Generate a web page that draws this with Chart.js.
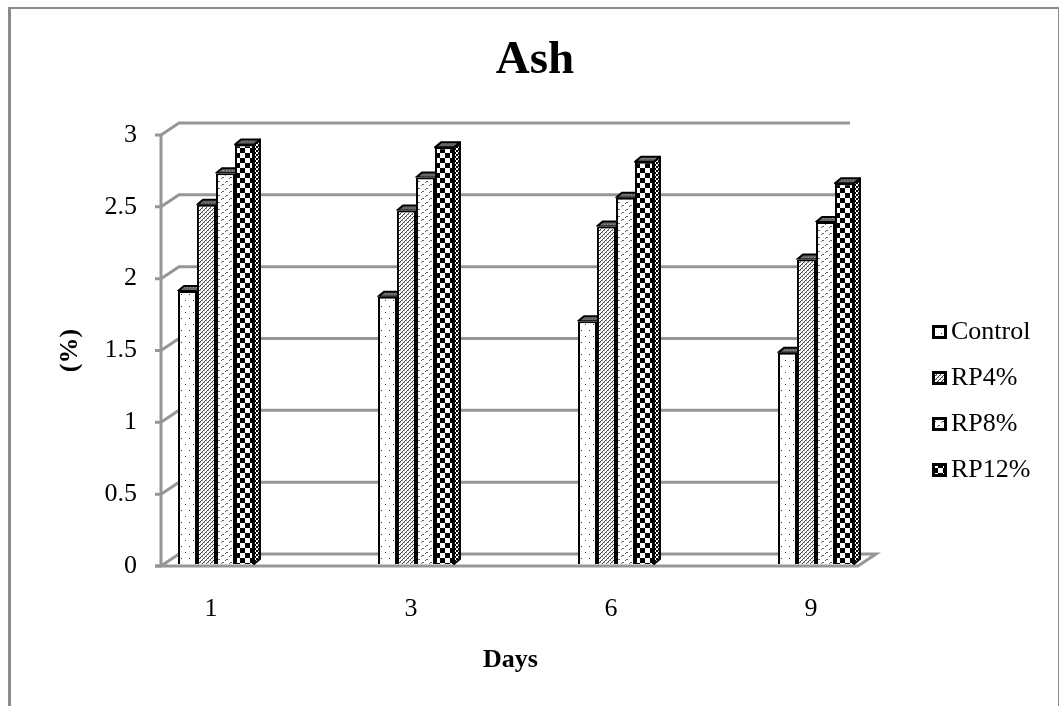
<!DOCTYPE html>
<html>
<head>
<meta charset="utf-8">
<title>Ash</title>
<script src="https://cdn.jsdelivr.net/npm/chart.js"></script>
<style>
  body { margin: 0; background: #fff; }
  #wrap { position: relative; width: 1059px; height: 706px; overflow: hidden; }
  #frame { position: absolute; left: 8px; top: 7px; width: 1047px; height: 720px;
           border: solid #8c8c8c; border-width: 2px 2px 0 3px; pointer-events: none; }
</style>
</head>
<body>
<div id="wrap">
  <canvas id="ashChart" width="1059" height="706"></canvas>
  <div id="frame"></div>
</div>
<script>
  // Data
  const categories = ['1', '3', '6', '9'];
  const control = [1.90, 1.86, 1.69, 1.47];
  const rp4 = [2.50, 2.46, 2.35, 2.12];
  const rp8 = [2.72, 2.69, 2.55, 2.38];
  const rp12 = [2.92, 2.90, 2.80, 2.65];
  const seriesNames = ['Control', 'RP4%', 'RP8%', 'RP12%'];
  const seriesValues = [control, rp4, rp8, rp12];

  const FONT = '"Liberation Serif", "Times New Roman", serif';
  const GRID = '#969696';

  // Fill patterns
  function makeTile(w, h, draw) {
    const c = document.createElement('canvas');
    c.width = w; c.height = h;
    const g = c.getContext('2d');
    g.fillStyle = '#fff';
    g.fillRect(0, 0, w, h);
    g.fillStyle = '#000';
    g.strokeStyle = '#000';
    draw(g);
    return c;
  }
  const dots = makeTile(8, 12, g => {
    g.fillStyle = '#333';
    g.fillRect(1, 2, 1, 1);
    g.fillRect(5, 8, 1, 1);
  });
  const hatch = makeTile(4, 4, g => {
    g.fillStyle = '#444';
    g.fillRect(0, 3, 1, 1); g.fillRect(1, 2, 1, 1);
    g.fillRect(2, 1, 1, 1); g.fillRect(3, 0, 1, 1);
    g.fillStyle = '#999';
    g.fillRect(0, 0, 1, 1); g.fillRect(2, 2, 1, 1);
  });
  const waves = makeTile(8, 7, g => {
    g.fillStyle = '#666';
    g.fillRect(1, 2, 1, 1); g.fillRect(2, 1, 2, 1);
    g.fillRect(5, 5, 1, 1); g.fillRect(6, 4, 2, 1);
  });
  const checks = makeTile(10, 10, g => {
    g.fillRect(0, 0, 5, 5);
    g.fillRect(5, 5, 5, 5);
  });
  const sideTile = makeTile(4, 4, g => {
    g.fillRect(0, 0, 2, 2);
    g.fillRect(2, 2, 2, 2);
    g.fillStyle = '#555';
    g.fillRect(2, 0, 1, 1);
  });
  const topTile = makeTile(3, 3, g => {
    g.fillStyle = '#666';
    g.fillRect(0, 0, 3, 3);
    g.fillStyle = '#999';
    g.fillRect(1, 1, 1, 1);
  });

  const patternCtx = document.createElement('canvas').getContext('2d');
  const fills = [dots, hatch, waves, checks].map(t => patternCtx.createPattern(t, 'repeat'));
  const sideFill = patternCtx.createPattern(sideTile, 'repeat');
  const topFill = patternCtx.createPattern(topTile, 'repeat');

  // Legend markers, blank on the left so the text sits close to the box
  function makeMarker(fill) {
    const c = document.createElement('canvas');
    c.width = 19; c.height = 14;
    const g = c.getContext('2d');
    g.fillStyle = '#000';
    g.fillRect(4, 0, 15, 14);
    g.fillStyle = fill;
    g.fillRect(7, 3, 9, 8);
    return c;
  }
  const markers = [dots, hatch, waves, checks].map(t => makeMarker(patternCtx.createPattern(t, 'repeat')));

  // Offsets of the 3D look
  const WALL_X = 18, WALL_Y = 12, BAR_X = 6, BAR_Y = 5, BAR_LIFT = 2, WALL_END = 10;

  const wallsPlugin = {
    id: 'walls',
    afterLayout(chart) {
      // title and legend sit outside the plot box
      chart.titleBlock.left = 8;
      chart.titleBlock.right = 1062;
      const lg = chart.legend;
      lg.left = 917; lg.right = 1059;
      lg.top = 299; lg.bottom = 540;
    },
    beforeDatasetsDraw(chart) {
      const { ctx, scales: { x, y } } = chart;
      const wallRight = x.right - WALL_END;
      ctx.save();
      ctx.strokeStyle = GRID;
      ctx.lineWidth = 3;
      ctx.lineJoin = 'miter';
      y.ticks.forEach(t => {
        const py = y.getPixelForValue(t.value);
        ctx.beginPath();
        ctx.moveTo(x.left - 6, py);
        ctx.lineTo(x.left, py);
        ctx.lineTo(x.left + WALL_X, py - WALL_Y);
        ctx.lineTo(wallRight, py - WALL_Y);
        ctx.stroke();
      });
      // y axis and floor
      const top = y.getPixelForValue(y.max), base = y.getPixelForValue(0);
      ctx.beginPath();
      ctx.moveTo(x.left, top);
      ctx.lineTo(x.left, base);
      ctx.stroke();
      ctx.beginPath();
      ctx.moveTo(x.left - 6, base);
      ctx.lineTo(wallRight + 8, base);
      ctx.lineTo(wallRight + 8 + WALL_X, base - WALL_Y);
      ctx.lineTo(wallRight - 4, base - WALL_Y);
      ctx.stroke();
      ctx.restore();
      ctx.save();
      ctx.translate(0, -BAR_LIFT);
    },
    afterDatasetDraw(chart, args) {
      const { ctx } = chart;
      const last = chart.data.datasets.length - 1;
      chart.getDatasetMeta(args.index).data.forEach(bar => {
        const l = bar.x - bar.width / 2, r = bar.x + bar.width / 2;
        ctx.save();
        ctx.strokeStyle = '#000';
        ctx.lineWidth = 2;
        ctx.lineJoin = 'round';
        // only the last bar of a group shows its side
        if (args.index === last) {
          ctx.beginPath();
          ctx.moveTo(r, bar.y);
          ctx.lineTo(r + BAR_X, bar.y - BAR_Y);
          ctx.lineTo(r + BAR_X, bar.base - BAR_Y);
          ctx.lineTo(r, bar.base);
          ctx.closePath();
          ctx.fillStyle = sideFill;
          ctx.fill();
          ctx.stroke();
        } else {
          ctx.beginPath();
          ctx.rect(l - 2, bar.y - BAR_Y - 3, bar.width + 2, BAR_Y + 3);
          ctx.clip();
        }
        ctx.beginPath();
        ctx.moveTo(l, bar.y);
        ctx.lineTo(l + BAR_X, bar.y - BAR_Y);
        ctx.lineTo(r + BAR_X, bar.y - BAR_Y);
        ctx.lineTo(r, bar.y);
        ctx.closePath();
        ctx.fillStyle = topFill;
        ctx.fill();
        ctx.stroke();
        ctx.restore();
      });
    },
    afterDatasetsDraw(chart) {
      chart.ctx.restore();
    }
  };

  const datasets = seriesNames.map((name, i) => ({
    label: name,
    data: seriesValues[i].map((v, j) => ({ x: j, y: v })),
    backgroundColor: fills[i],
    borderColor: '#000',
    borderWidth: 2,
    categoryPercentage: 0.38,
    barPercentage: 1,
    clip: false
  }));

  new Chart(document.getElementById('ashChart').getContext('2d'), {
    type: 'bar',
    data: { datasets: datasets },
    plugins: [wallsPlugin],
    options: {
      responsive: false,
      animation: false,
      layout: { padding: { left: 20, right: 199, top: 0, bottom: 0 } },
      plugins: {
        tooltip: { enabled: false },
        title: {
          display: true,
          text: 'Ash',
          color: '#000',
          font: { family: FONT, size: 47, weight: 'bold', lineHeight: 1.2 },
          padding: { top: 33, bottom: 45.6 }
        },
        legend: {
          position: 'chartArea',
          align: 'start',
          labels: {
            usePointStyle: true,
            pointStyleWidth: 1,
            boxHeight: 14,
            padding: 20,
            color: '#000',
            font: { family: FONT, size: 26, lineHeight: 1 },
            generateLabels(chart) {
              return Chart.defaults.plugins.legend.labels.generateLabels(chart)
                .map((item, i) => Object.assign(item, { pointStyle: markers[i] }));
            }
          }
        }
      },
      scales: {
        x: {
          type: 'linear',
          offset: false,
          min: -0.275,
          max: 3.22,
          afterFit(s) { s.height = 140; },
          grid: { display: false, drawTicks: false },
          border: { display: false },
          ticks: {
            stepSize: 1,
            includeBounds: false,
            autoSkip: false,
            maxRotation: 0,
            padding: 28,
            labelOffset: -5,
            color: '#000',
            font: { family: FONT, size: 26 },
            callback: v => categories[v]
          },
          title: {
            display: true,
            text: 'Days',
            color: '#000',
            font: { family: FONT, size: 26, weight: 'bold' },
            padding: { top: 0, bottom: 30 }
          }
        },
        y: {
          min: 0,
          max: 3,
          afterFit(s) { s.width = 141; },
          grid: { display: false, drawTicks: false },
          border: { display: false },
          ticks: {
            stepSize: 0.5,
            padding: 24,
            color: '#000',
            font: { family: FONT, size: 26 },
            callback: v => String(v)
          },
          title: {
            display: true,
            text: '(%)',
            color: '#000',
            font: { family: FONT, size: 26, weight: 'bold' },
            padding: { top: 35, bottom: 0 }
          }
        }
      }
    }
  });
</script>
</body>
</html>
